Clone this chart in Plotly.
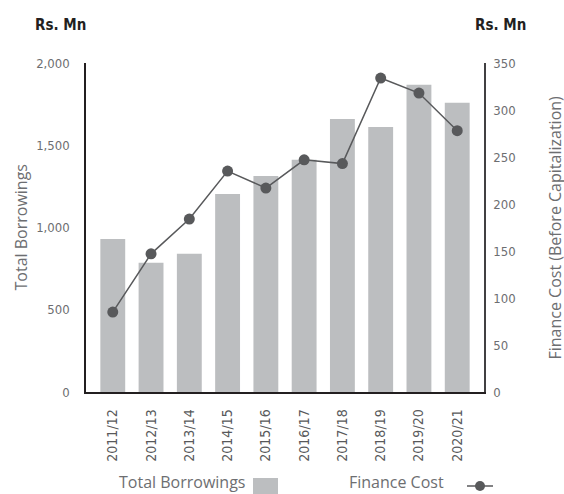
import plotly.graph_objects as go

# Financial years
years = ["2011/12", "2012/13", "2013/14", "2014/15", "2015/16",
         "2016/17", "2017/18", "2018/19", "2019/20", "2020/21"]

# Total borrowings (Rs. Mn, left axis)
borrowings = [930, 786, 841, 1204, 1313, 1412, 1659, 1611, 1868, 1759]

# Finance cost before capitalization (Rs. Mn, right axis)
finance_cost = [85, 147, 184, 235, 217, 247, 243, 334, 318, 278]

left_ticks = [0, 500, 1000, 1500, 2000]
left_tick_text = ["0", "500", "1,000", "1,500", "2,000"]
right_ticks = [0, 50, 100, 150, 200, 250, 300, 350]

BAR_COLOR = "#bcbec0"
LINE_COLOR = "#58595b"
TEXT_GREY = "#6d6e71"
NARROW = "DejaVu Sans Condensed, DejaVu Sans, sans-serif"
TICK_FONT = dict(family=NARROW, size=13, color=TEXT_GREY)
TITLE_FONT = dict(family="Open Sans, sans-serif", size=16, color=TEXT_GREY)

fig = go.Figure()

fig.add_trace(go.Bar(
    x=years, y=borrowings, name="Total Borrowings",
    marker=dict(color=BAR_COLOR, line=dict(width=0)),
    yaxis="y",
))

fig.add_trace(go.Scatter(
    x=years, y=finance_cost, name="Finance Cost",
    mode="lines+markers",
    line=dict(color=LINE_COLOR, width=1.5),
    marker=dict(color=LINE_COLOR, size=11),
    yaxis="y2",
))

fig.update_layout(
    width=564, height=494,
    margin=dict(l=86, r=80, t=63, b=102),
    paper_bgcolor="white", plot_bgcolor="white",
    showlegend=False,
    bargap=0.35,
    xaxis=dict(
        type="category",
        showline=True, linecolor="#231f20", linewidth=1.5,
        showgrid=False, ticks="",
        tickangle=-90,
        tickfont=dict(family=NARROW, size=14, color="#58595b"),
        ticklabelstandoff=10,
    ),
    yaxis=dict(
        range=[0, 2000],
        tickvals=left_ticks, ticktext=left_tick_text,
        showline=True, linecolor="#231f20", linewidth=1.5,
        showgrid=False, zeroline=False, ticks="",
        tickfont=TICK_FONT,
        ticklabelstandoff=12,
    ),
    yaxis2=dict(
        range=[0, 350],
        tickvals=right_ticks,
        overlaying="y", side="right",
        showline=True, linecolor="#414042", linewidth=1.5,
        showgrid=False, zeroline=False, ticks="",
        tickfont=TICK_FONT,
        ticklabelstandoff=5,
    ),
)

# Unit labels above each axis
unit_font = dict(family=NARROW, size=15, color="#231f20")
fig.add_annotation(text="<b>Rs. Mn</b>", xref="paper", yref="paper", x=0, y=1.0,
                   xshift=-26, yshift=38, xanchor="center", yanchor="middle", showarrow=False, font=unit_font)
fig.add_annotation(text="<b>Rs. Mn</b>", xref="paper", yref="paper", x=1.0, y=1.0,
                   xshift=-11, yshift=38, xanchor="left", yanchor="middle", showarrow=False, font=unit_font)

# Axis titles
fig.add_annotation(text="Total Borrowings", xref="paper", yref="paper", x=0, y=0.5,
                   xshift=-66, xanchor="center", yanchor="middle", textangle=-90,
                   showarrow=False, font=TITLE_FONT)
fig.add_annotation(text="Finance Cost (Before Capitalization)", xref="paper", yref="paper",
                   x=1, y=0.5, xshift=70, xanchor="center", yanchor="middle", textangle=-90,
                   showarrow=False, font=TITLE_FONT)

# Custom legend: label first, then symbol
fig.add_annotation(text="Total Borrowings", xref="paper", yref="paper", x=(117 - 86) / 398, y=0,
                   yshift=-90, xanchor="left", yanchor="middle", showarrow=False, font=TITLE_FONT)
fig.add_shape(type="rect", xref="paper", yref="paper",
              x0=(253 - 86) / 398, x1=(278 - 86) / 398, y0=(392 - 494) / 329, y1=(392 - 478) / 329,
              fillcolor=BAR_COLOR, line=dict(width=0))
fig.add_annotation(text="Finance Cost", xref="paper", yref="paper", x=(347 - 86) / 398, y=0,
                   yshift=-90, xanchor="left", yanchor="middle", showarrow=False, font=TITLE_FONT)
fig.add_shape(type="line", xref="paper", yref="paper",
              x0=(467 - 86) / 398, x1=(493 - 86) / 398, y0=(392 - 486) / 329, y1=(392 - 486) / 329,
              line=dict(color=LINE_COLOR, width=1.5))
fig.add_shape(type="circle", xref="paper", yref="paper",
              x0=(475 - 86) / 398, x1=(485 - 86) / 398, y0=(392 - 491) / 329, y1=(392 - 481) / 329,
              fillcolor=LINE_COLOR, line=dict(width=0))

fig.write_html("out.html")
